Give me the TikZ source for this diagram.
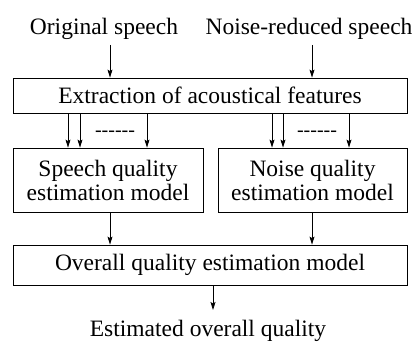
\documentclass[tikz,border=0pt]{standalone}
\usepackage{fontspec}
\setmainfont{Liberation Serif}
\usetikzlibrary{arrows.meta, positioning}

\begin{document}
\begin{tikzpicture}[
    x=1pt, y=-1pt,
    font=\fontsize{23.5}{24}\selectfont,
    >={Stealth[length=8pt, width=5pt, inset=1.5pt]},
    box/.style={draw, line width=0.8pt, align=center, inner sep=0pt},
    label/.style={inner sep=0pt, anchor=base},
    arrow/.style={->, line width=0.8pt},
]
\useasboundingbox (0,0) rectangle (417,347);

% inputs
\node[label] (orig) at (104,35) {Original speech};
\node[label] (noisy) at (309,35) {Noise-reduced speech};
\coordinate (in1) at (110,45);
\coordinate (in2) at (312,45);

% blocks
\node[box, minimum width=394pt, minimum height=35pt] (extract) at (210,95.5)
    {Extraction of acoustical features};
\node[box, minimum width=190pt, minimum height=64pt] (speech) at (108,180)
    {Speech quality\\estimation model};
\node[box, minimum width=189pt, minimum height=64pt] (noise) at (312.5,180)
    {Noise quality\\estimation model};
\node[box, minimum width=394pt, minimum height=40pt] (overall) at (210,265)
    {Overall quality estimation model};

% output
\node[label] (est) at (208,336) {Estimated overall quality};

\draw[arrow] (in1) -- (in1 |- extract.north);
\draw[arrow] (in2) -- (in2 |- extract.north);

% feature arrows
\foreach \x in {68,80,147}
    \draw[arrow] (\x,0 |- extract.south) -- (\x,0 |- speech.north);
\foreach \x in {272,283,349}
    \draw[arrow] (\x,0 |- extract.south) -- (\x,0 |- noise.north);
\node[label, font=\fontsize{20}{24}\selectfont] (dots1) at (115,137) {-{}-{}-{}-{}-{}-};
\node[label, font=\fontsize{20}{24}\selectfont] (dots2) at (317,137) {-{}-{}-{}-{}-{}-};

\draw[arrow] (110,0 |- speech.south) -- (110,0 |- overall.north);
\draw[arrow] (312,0 |- noise.south) -- (312,0 |- overall.north);
\draw[arrow] (213,0 |- overall.south) -- (213,310);

\end{tikzpicture}
\end{document}
